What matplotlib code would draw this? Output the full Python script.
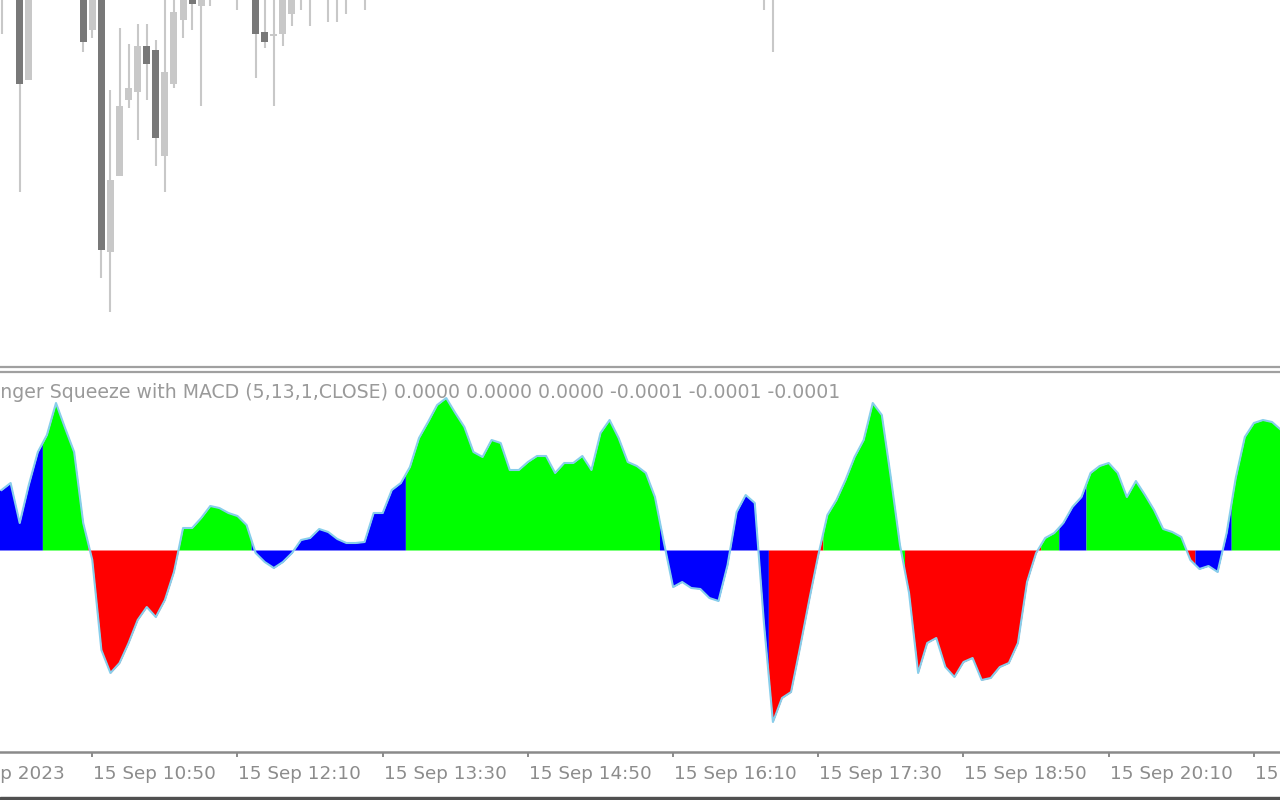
import numpy as np
import matplotlib
matplotlib.use("Agg")
import matplotlib.pyplot as plt
from matplotlib.patches import Rectangle
import matplotlib.transforms as mtransforms

# ---------------- data ----------------
# bar index 0 = 15 Sep 10:50 (M5 bars)
bar_first = -10
macd_e6 = [60, 67, 27, 65, 98, 115, 147, 122, 98, 27,
           -10, -100, -123, -113, -93, -70, -57, -67, -50, -22,
           22, 22, 32, 44, 42, 37, 34, 25, -3, -12,
           -18, -12, -3, 10, 12, 21, 18, 11, 7, 7,
           8, 37, 37, 60, 67, 83, 112, 128, 145, 152,
           137, 123, 98, 93, 110, 107, 80, 80, 88, 94,
           94, 77, 87, 87, 94, 80, 117, 130, 112, 88,
           84, 77, 53, 7, -37, -32, -38, -39, -48, -51,
           -15, 38, 55, 47, -72, -172, -148, -142, -97, -50,
           -5, 35, 50, 70, 93, 110, 147, 135, 72, 5,
           -43, -123, -93, -88, -117, -127, -112, -108, -130, -128,
           -117, -113, -93, -32, -3, 12, 17, 27, 43, 53,
           77, 84, 87, 77, 53, 69, 55, 40, 21, 18,
           13, -10, -19, -16, -22, 17, 72, 113, 127, 130,
           128, 120]
# colour state per bar: G = green, B = blue, R = red
macd_state = ("BBBBBGGGGG" "RRRRRRRRRR" "GGGGGGGGBB" "BBBBBBBBBB" "BBBBBGGGGG"
              "GGGGGGGGGG" "GGGGGGGGGG" "GGGBBBBBBB" "BBBBBRRRRR" "RGGGGGGGGG"
              "RRRRRRRRRR" "RRRRRGGBBB" "GGGGGGGGGG" "GRBBBBGGGG" "GG")

candle_idx = [-10, -8, -7, -1, 0, 1, 2, 3, 4, 5, 6, 7, 8, 9, 10, 11, 12, 13, 16,
              18, 19, 20, 21, 22, 23, 24, 26, 27, 28, 30, 74, 75]
opens  = [1.06720, 1.06730, 1.06660, 1.06705, 1.06685, 1.06702, 1.06574, 1.06612,
          1.06650, 1.06654, 1.06677, 1.06675, 1.06622, 1.06658, 1.06690, 1.06715,
          1.06697, 1.06712, 1.06718, 1.06720, 1.06684, 1.06682, 1.06683, 1.06693,
          1.06710, 1.06712, 1.06712, 1.06712, 1.06712, 1.06712, 1.06720, 1.06725]
highs  = [1.06750, 1.06740, 1.06725, 1.06712, 1.06710, 1.06706, 1.06655, 1.06686,
          1.06678, 1.06688, 1.06688, 1.06680, 1.06700, 1.06705, 1.06720, 1.06720,
          1.06718, 1.06728, 1.06735, 1.06725, 1.06710, 1.06708, 1.06710, 1.06712,
          1.06725, 1.06725, 1.06725, 1.06725, 1.06725, 1.06725, 1.06735, 1.06735]
lows   = [1.06683, 1.06604, 1.06660, 1.06674, 1.06681, 1.06561, 1.06544, 1.06612,
          1.06646, 1.06630, 1.06650, 1.06617, 1.06604, 1.06656, 1.06681, 1.06685,
          1.06647, 1.06697, 1.06695, 1.06661, 1.06676, 1.06647, 1.06677, 1.06687,
          1.06695, 1.06687, 1.06689, 1.06689, 1.06693, 1.06695, 1.06695, 1.06674]
closes = [1.06740, 1.06658, 1.06720, 1.06679, 1.06702, 1.06575, 1.06610, 1.06647,
          1.06656, 1.06677, 1.06668, 1.06631, 1.06664, 1.06694, 1.06710, 1.06698,
          1.06712, 1.06722, 1.06730, 1.06683, 1.06679, 1.06683, 1.06702, 1.06708,
          1.06720, 1.06720, 1.06720, 1.06720, 1.06720, 1.06720, 1.06725, 1.06715]

tick_bars = [-16, 0, 16, 32, 48, 64, 80, 96, 112, 128]
tick_labels = ["15 Sep 2023", "15 Sep 10:50", "15 Sep 12:10", "15 Sep 13:30",
               "15 Sep 14:50", "15 Sep 16:10", "15 Sep 17:30", "15 Sep 18:50",
               "15 Sep 20:10", "15 Sep 21:30"]
indicator_title = ("Bollinger Squeeze with MACD (5,13,1,CLOSE) 0.0000 0.0000 0.0000 "
                   "-0.0001 -0.0001 -0.0001")

# ---------------- layout ----------------
W, H = 1280, 800
fig = plt.figure(figsize=(W / 100, H / 100), dpi=100)
fig.patch.set_facecolor("white")

px_per_bar = 9.075
x0_px = 92.3  # pixel of bar 0
xlim = (-x0_px / px_per_bar, (W - x0_px) / px_per_bar)

def fy(px):
    return 1 - px / H

ax_main = fig.add_axes([0, fy(367), 1, fy(0) - fy(367)])
ax_ind = fig.add_axes([0, fy(752), 1, fy(372) - fy(752)])

TEXT_COL = "#8c8c8c"
LINE_COL = "#a0a0a0"
FS = 13.2

# ---------------- main (candles) ----------------
bull_col, bear_col, wick_col = "#c8c8c8", "#787878", "#c8c8c8"
ax_main.vlines(candle_idx, lows, highs, color=wick_col, lw=1.5, zorder=2)
o = np.array(opens); c = np.array(closes)
bottoms = np.minimum(o, c)
heights = np.maximum(np.abs(c - o), 0.000004)
cols = [bull_col if cc >= oo else bear_col for oo, cc in zip(o, c)]
ax_main.bar(candle_idx, heights, bottom=bottoms, width=0.77, color=cols,
            edgecolor="none", zorder=3)
ax_main.set_xticks([]); ax_main.set_yticks([])
ax_main.set_xlim(*xlim)
ax_main.set_ylim(1.06700 - 367 * 0.000005, 1.06700)
for s in ["top", "left", "right"]:
    ax_main.spines[s].set_visible(False)
ax_main.spines["bottom"].set_color(LINE_COL)
ax_main.spines["bottom"].set_linewidth(1.6)

# ---------------- indicator ----------------
vals = np.array(macd_e6, dtype=float) * 1e-6
n = len(vals)
xs = np.arange(bar_first, bar_first + n)
colmap = {"G": "#00ff00", "B": "#0000ff", "R": "#ff0000"}

def mid(a, b):
    return (vals[a] + vals[b]) / 2

start = 0
while start < n:
    end = start
    while end + 1 < n and macd_state[end + 1] == macd_state[start]:
        end += 1
    px = [xs[start] - 0.5] + list(xs[start:end + 1]) + [xs[end] + 0.5]
    left = mid(start - 1, start) if start > 0 else vals[start]
    right = mid(end, end + 1) if end + 1 < n else vals[end]
    py = [left] + list(vals[start:end + 1]) + [right]
    ax_ind.fill_between(px, 0, py, color=colmap[macd_state[start]], lw=0,
                        zorder=2)
    start = end + 1

ax_ind.plot(xs, vals, color="#87ceeb", lw=1.5, zorder=3)
ax_ind.set_yticks([])
ax_ind.set_xticks(tick_bars)
ax_ind.set_xticklabels([""] * len(tick_bars))
ax_ind.set_xlim(*xlim)
ax_ind.set_ylim(-202e-6, 178e-6)
for s in ["left", "right"]:
    ax_ind.spines[s].set_visible(False)
ax_ind.spines["top"].set_color(LINE_COL)
ax_ind.spines["top"].set_linewidth(1.6)
ax_ind.spines["bottom"].set_color("#8a8a8a")
ax_ind.spines["bottom"].set_linewidth(1.8)
ax_ind.tick_params(axis="x", direction="out", length=3.5, width=1.4,
                   color="#8a8a8a")

trans = mtransforms.blended_transform_factory(ax_ind.transData, fig.transFigure)
for b, lab in zip(tick_bars, tick_labels):
    ax_ind.text(b + 0.1, fy(774), lab, transform=trans, ha="left", va="center",
                fontsize=FS, color=TEXT_COL, clip_on=False, family="DejaVu Sans")

fig.text(840 / W, fy(393), indicator_title, ha="right", va="center",
         fontsize=13.6, color="#9a9a9a", family="DejaVu Sans", zorder=10)

# bottom dark strip
fig.patches.append(Rectangle((0, 0), 1, 3.5 / H, transform=fig.transFigure,
                             color="#505050", zorder=5))

fig.savefig("out.png", dpi=100, facecolor="white")
